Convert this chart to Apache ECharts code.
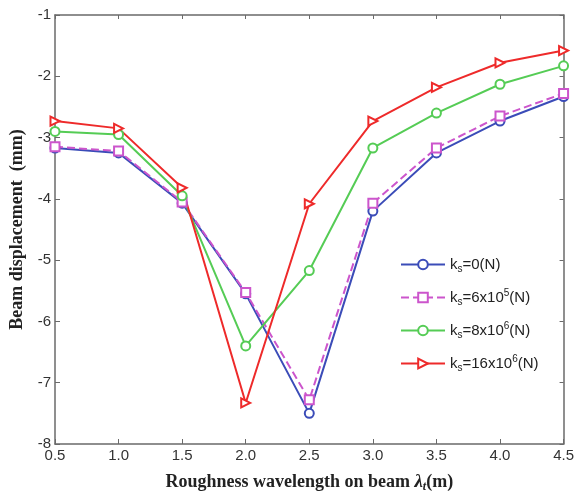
<!DOCTYPE html>
<html>
<head>
<meta charset="utf-8">
<script src="https://cdn.jsdelivr.net/npm/echarts@6/dist/echarts.min.js"></script>
<style>
html, body { margin: 0; padding: 0; background: #fff; }
#chart { width: 577px; height: 498px; }
</style>
</head>
<body>
<div id="chart"></div>
<script>
(function() {
    'use strict';
    // 数据
    var wavelength = [0.5, 1.0, 1.5, 2.0, 2.5, 3.0, 3.5, 4.0, 4.5];
    var ks0 = [-3.17, -3.25, -4.07, -5.55, -7.50, -4.20, -3.25, -2.73, -2.33];
    var ks6e5 = [-3.15, -3.22, -4.05, -5.53, -7.28, -4.07, -3.17, -2.65, -2.28];
    var ks8e6 = [-2.90, -2.95, -3.95, -6.40, -5.17, -3.17, -2.60, -2.13, -1.83];
    var ks16e6 = [-2.73, -2.85, -3.82, -7.33, -4.08, -2.73, -2.18, -1.78, -1.58];
    var legendNames = ['ks0', 'ks6e5', 'ks8e6', 'ks16e6'];

    function pairs(ys) {
        return wavelength.map(function(x, i) { return [x, ys[i]]; });
    }

    var chart = echarts.init(document.getElementById('chart'));
    var axisColor = '#6a6a6a';
    var sans = 'Liberation Sans';
    var serif = 'Liberation Serif';

    function makeSeries(name, data, color, symbol, dashed, rotate) {
        return {
            name: name,
            type: 'line',
            data: pairs(data),
            symbol: symbol,
            symbolSize: 9,
            symbolRotate: rotate || 0,
            showSymbol: true,
            lineStyle: { color: color, width: 2, type: dashed ? 'dashed' : 'solid' },
            itemStyle: { color: color, borderColor: color, borderWidth: 1.5 }
        };
    }

    var labels = {
        ks0: '{t|k}{sub|s}{t|=0(N)}',
        ks6e5: '{t|k}{sub|s}{t|=6x10}{sup|5}{t|(N)}',
        ks8e6: '{t|k}{sub|s}{t|=8x10}{sup|6}{t|(N)}',
        ks16e6: '{t|k}{sub|s}{t|=16x10}{sup|6}{t|(N)}'
    };

    var option = {
        animation: false,
        backgroundColor: '#fff',
        grid: { left: 55, right: 10, top: 15, bottom: 45, containLabel: false },
        legend: {
            data: legendNames,
            orient: 'vertical',
            left: 395,
            top: 252,
            itemGap: 14,
            itemWidth: 44,
            itemHeight: 12,
            formatter: function(n) { return labels[n]; },
            textStyle: {
                rich: {
                    t: { fontFamily: sans, fontSize: 15, color: '#222' },
                    sub: { fontFamily: sans, fontSize: 10, color: '#222', verticalAlign: 'bottom', padding: [9, 0, 0, 0] },
                    sup: { fontFamily: sans, fontSize: 10, color: '#222', verticalAlign: 'top', padding: [0, 0, 8, 0] }
                }
            }
        },
        xAxis: [{
            type: 'value',
            min: 0.5,
            max: 4.5,
            interval: 0.5,
            axisLine: { lineStyle: { color: axisColor, width: 1.5 } },
            axisTick: { inside: true, length: 5, lineStyle: { color: axisColor } },
            splitLine: { show: false },
            axisLabel: {
                color: '#333', fontFamily: sans, fontSize: 15, margin: 4,
                formatter: function(v) { return v.toFixed(1); }
            },
            name: '{b|Roughness wavelength on beam }{l|λ}{ls|t}{b|(m)}',
            nameLocation: 'middle',
            nameGap: 28,
            nameTextStyle: {
                rich: {
                    b: { fontFamily: serif, fontWeight: 'bold', fontSize: 18, color: '#222' },
                    l: { fontFamily: serif, fontWeight: 'bold', fontStyle: 'italic', fontSize: 19, color: '#222' },
                    ls: { fontFamily: serif, fontWeight: 'bold', fontStyle: 'italic', fontSize: 12, color: '#222', verticalAlign: 'bottom', padding: [9, 0, 0, 0] }
                }
            }
        }, {
            type: 'value',
            position: 'top',
            min: 0.5,
            max: 4.5,
            interval: 0.5,
            axisLine: { lineStyle: { color: axisColor, width: 1.5 } },
            axisTick: { inside: true, length: 4, lineStyle: { color: axisColor } },
            axisLabel: { show: false },
            splitLine: { show: false }
        }],
        yAxis: [{
            type: 'value',
            min: -8,
            max: -1,
            interval: 1,
            axisLine: { show: true, lineStyle: { color: axisColor, width: 1.5 } },
            axisTick: { show: true, inside: true, length: 5, lineStyle: { color: axisColor } },
            splitLine: { show: false },
            axisLabel: { color: '#333', fontFamily: sans, fontSize: 15, margin: 4 },
            name: 'Beam displacement  (mm)',
            nameLocation: 'middle',
            nameGap: 28,
            nameTextStyle: { fontFamily: serif, fontWeight: 'bold', fontSize: 18, color: '#222' }
        }, {
            type: 'value',
            position: 'right',
            min: -8,
            max: -1,
            interval: 1,
            axisLine: { show: true, lineStyle: { color: axisColor, width: 1.5 } },
            axisTick: { show: true, inside: true, length: 4, lineStyle: { color: axisColor } },
            axisLabel: { show: false },
            splitLine: { show: false }
        }],
        series: [
            makeSeries('ks0', ks0, '#3b4cb8', 'emptyCircle', false),
            makeSeries('ks6e5', ks6e5, '#cc55cc', 'emptyRect', true),
            makeSeries('ks8e6', ks8e6, '#55cc55', 'emptyCircle', false),
            makeSeries('ks16e6', ks16e6, '#ee2a2a', 'emptyTriangle', false, -90)
        ]
    };

    chart.setOption(option);
})();
</script>
</body>
</html>
